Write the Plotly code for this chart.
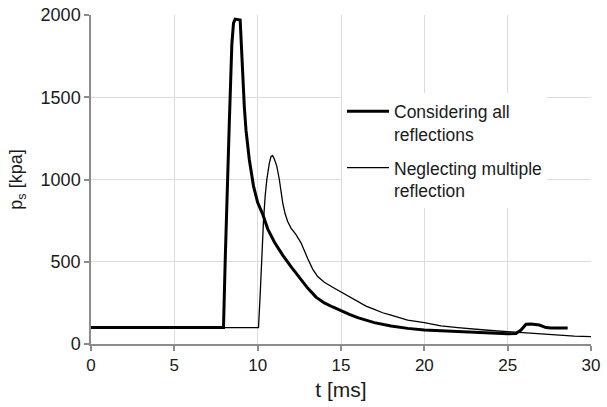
import plotly.graph_objects as go

# Considering all reflections (thick)
t_all = [0, 7.95, 8.05, 8.15, 8.22, 8.3, 8.38, 8.45, 8.55, 8.65, 8.95, 9.02, 9.1, 9.2, 9.3,
         9.5, 9.75, 10.0, 10.3, 10.6, 11.0, 11.5, 12.0, 12.5, 13.0, 13.5, 14.0, 14.5, 15.0,
         15.5, 16, 16.5, 17, 18, 19, 20, 21, 22, 23, 24, 25, 25.5, 25.8, 26.1, 26.4, 26.9,
         27.3, 27.6, 28.6]
p_all = [100, 100, 500, 900, 1050, 1350, 1600, 1820, 1950, 1975, 1970, 1820, 1620, 1440, 1300,
         1120, 960, 860, 790, 700, 620, 540, 470, 405, 340, 285, 250, 225, 200,
         180, 160, 145, 130, 110, 95, 85, 80, 75, 70, 65, 62, 64, 85, 120, 122, 115,
         100, 97, 97]

# Neglecting multiple reflection (thin)
t_neg = [0, 10.05, 10.15, 10.25, 10.35, 10.45, 10.55, 10.7, 10.8, 10.9, 11.0, 11.15, 11.3,
         11.5, 11.65, 11.8, 12.0, 12.3, 12.6, 13.0, 13.3, 13.6, 14.0, 14.5, 15, 15.5, 16,
         16.5, 17, 17.5, 18, 18.5, 19, 20, 21, 22, 23, 24, 25, 26, 27, 28, 29, 30]
p_neg = [100, 100, 300, 550, 750, 900, 1000, 1100, 1140, 1145, 1125, 1080, 1000,
         860, 790, 745, 705, 665, 615, 520, 455, 410, 375, 345, 315, 290, 260,
         230, 210, 190, 175, 160, 145, 130, 110, 100, 90, 82, 75, 68, 60, 55, 48, 45]

x_ticks = [0, 5, 10, 15, 20, 25, 30]
y_ticks = [0, 500, 1000, 1500, 2000]

FONT = "Liberation Sans, Arial, sans-serif"

fig = go.Figure()
fig.add_trace(go.Scatter(x=t_all, y=p_all, mode="lines",
                         name="Considering all<br>reflections",
                         line=dict(color="black", width=3), legendgroup="a"))
fig.add_trace(go.Scatter(x=t_neg, y=p_neg, mode="lines",
                         name="Neglecting multiple<br>reflection",
                         line=dict(color="black", width=1.3), legendgroup="b"))

axis_common = dict(showline=True, linecolor="#8c8c8c", linewidth=1.5,
                   ticks="outside", ticklen=5, tickcolor="#8c8c8c", tickwidth=1.5,
                   showgrid=True, gridcolor="#dcdcdc", gridwidth=1, zeroline=False,
                   automargin=False)

fig.update_layout(
    width=607, height=407,
    margin=dict(l=91, r=16, t=15, b=63),
    paper_bgcolor="white", plot_bgcolor="white",
    font=dict(family=FONT, color="#1a1a1a"),
    showlegend=True,
    legend=dict(x=0.502, y=0.762, xanchor="left", yanchor="top",
                bgcolor="white", font=dict(size=17.5, family=FONT, color="#1a1a1a"),
                valign="top", tracegroupgap=8, itemwidth=42),
    xaxis=dict(range=[0, 30], tickvals=x_ticks, tickfont=dict(size=17),
               title=dict(text="t [ms]", font=dict(size=21), standoff=8), **axis_common),
    yaxis=dict(range=[0, 2000], tickvals=y_ticks, tickfont=dict(size=18),
               title=dict(text="p<sub>s</sub> [kpa]", font=dict(size=18), standoff=13),
               **axis_common),
)

fig.write_html("out.html")
